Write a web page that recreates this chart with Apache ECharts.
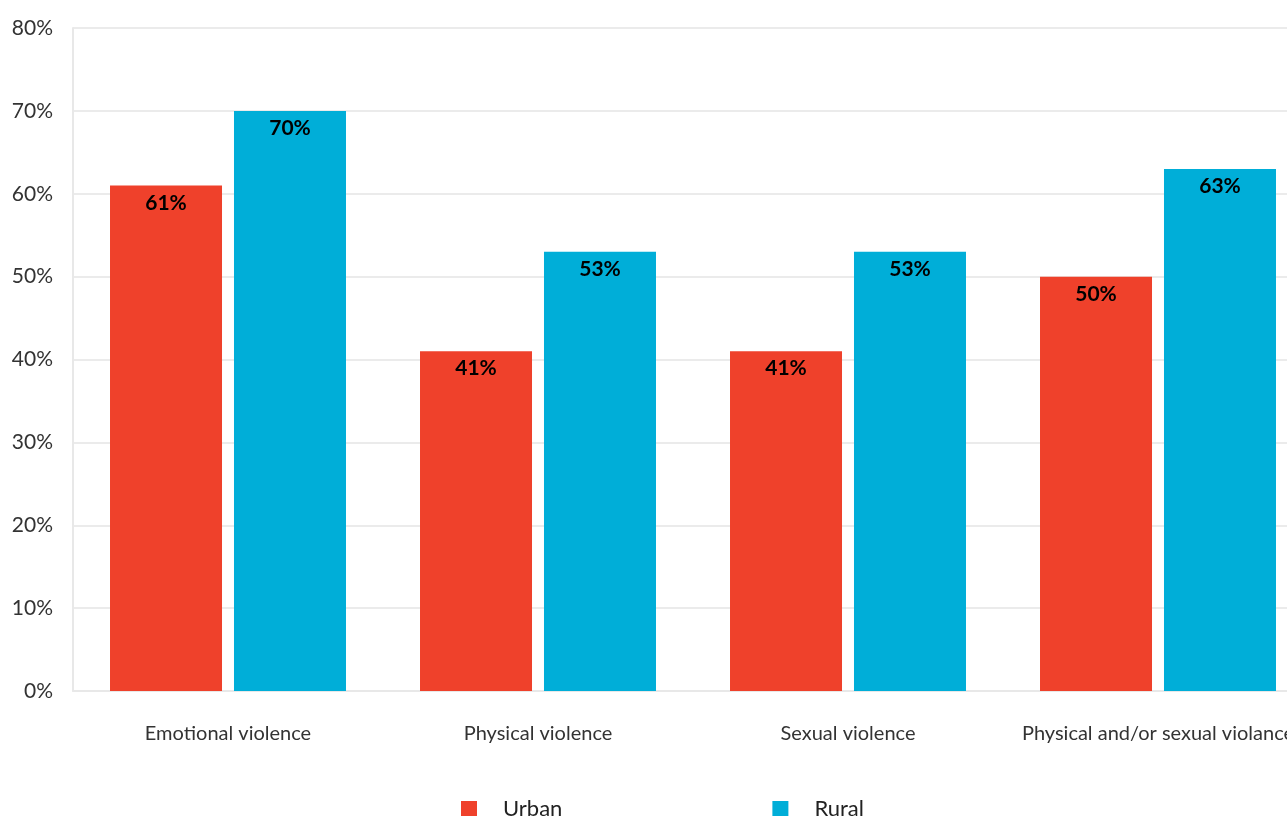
<!DOCTYPE html>
<html><head><meta charset="utf-8">
<script src="https://cdn.jsdelivr.net/npm/echarts@6/dist/echarts.min.js"></script>
<style>html,body{margin:0;padding:0;background:#fff;overflow:hidden;width:1287px;height:816px}#c{width:1313px;height:816px}</style>
</head><body><div id="c"></div>
<script>
const categories = ['Emotional violence', 'Physical violence', 'Sexual violence', 'Physical and/or sexual violance'];
const urban = [61, 41, 41, 50];
const rural = [70, 53, 53, 63];
const seriesNames = ['Urban', 'Rural'];
const colors = ['#EF412B', '#00AED8'];
const font = 'Lato, "Noto Sans", sans-serif';

const chart = echarts.init(document.getElementById('c'), null, {renderer: 'canvas'});
const labelOpt = {
  show: true, position: 'insideTop', distance: 7,
  formatter: p => p.value + '%', color: '#000', fontFamily: font,
  fontWeight: 'bold', fontSize: 21
};
chart.setOption({
  animation: false,
  color: colors,
  grid: {left: 73, top: 28, width: 1240, height: 663, containLabel: false},
  legend: {
    data: seriesNames, left: 456, top: 793, itemWidth: 16, itemHeight: 16,
    itemGap: 210, icon: 'rect',
    textStyle: {fontFamily: font, fontSize: 22, color: '#222', padding: [0, 0, 0, 21]}
  },
  xAxis: {
    type: 'category', data: categories,
    axisLine: {show: true, lineStyle: {color: '#e8e8e8', width: 2}},
    axisTick: {show: false},
    axisLabel: {fontFamily: font, fontSize: 20, color: '#333', margin: 33, interval: 0}
  },
  yAxis: {
    type: 'value', min: 0, max: 80, interval: 10,
    axisLine: {show: true, lineStyle: {color: '#e8e8e8', width: 2}},
    axisTick: {show: false},
    splitLine: {lineStyle: {color: '#ebebeb', width: 2}},
    axisLabel: {fontFamily: font, fontSize: 21, color: '#333', margin: 20, formatter: '{value}%'}
  },
  series: [
    {name: seriesNames[0], type: 'bar', data: urban, barWidth: 112, barGap: '10.7%', label: labelOpt},
    {name: seriesNames[1], type: 'bar', data: rural, barWidth: 112, barGap: '10.7%', label: labelOpt}
  ]
});
</script></body></html>
